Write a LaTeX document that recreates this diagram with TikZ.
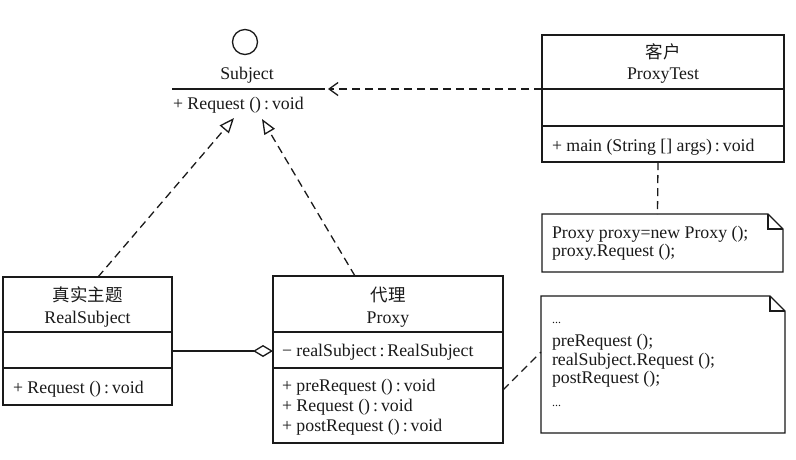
\documentclass[tikz,border=0pt]{standalone}
\usepackage{fontspec}
\setmainfont{Liberation Serif}
\newfontfamily\cjk{Noto Sans CJK SC}
\usetikzlibrary{arrows.meta,calc}
\definecolor{ink}{HTML}{1A1A1A}
\begin{document}
\begin{tikzpicture}[x=1pt,y=-1pt,
  every node/.style={inner sep=0pt, outer sep=0pt},
  classbox/.style={draw=ink, line width=1.3pt, anchor=north west},
  notebox/.style={anchor=north west},
  txt/.style={font=\fontsize{17.8}{19}\selectfont, anchor=base west, text=ink},
  ctxt/.style={font=\fontsize{17.8}{19}\selectfont, anchor=base, text=ink},
  cjktxt/.style={font=\cjk\fontsize{17.5}{19}\selectfont, text=ink},
  rule/.style={draw=ink, line width=1.3pt},
  dashline/.style={draw=ink, line width=1.3pt, dash pattern=on 8pt off 5pt},
  realize/.style={dashline, -{Triangle[open,length=15,width=12,line width=1.3pt]}},
  depend/.style={dashline, -{Straight Barb[length=9,width=13,line width=1.3pt]}},
  aggregate/.style={rule, -{Diamond[open,length=20,width=12,line width=1.3pt]}},
]
\useasboundingbox[fill=white] (0,0) rectangle (796,459);

% ---------- interface Subject (lollipop form) ----------
\node[circle, draw=ink, line width=1.3pt, minimum size=25] (subjIcon) at (245,42) {};
\node[ctxt] (subjName) at (247,79) {Subject};
\coordinate (subjL) at (172,89);
\coordinate (subjR) at (325,89);
\draw[rule] (subjL) -- (subjR);
\node[txt] (subjOp) at (173,109) {+ Request ()\,:\,void};
\coordinate (tipL) at (234,118);
\coordinate (tipR) at (262,119);

% ---------- class ProxyTest ----------
\node[classbox, minimum width=242, minimum height=127] (pt) at (542,35) {};
\draw[rule] ($(pt.north west)+(0,54)$) -- ($(pt.north east)+(0,54)$);
\draw[rule] ($(pt.north west)+(0,91)$) -- ($(pt.north east)+(0,91)$);
\node[cjktxt] (ptZh) at (663,52) {客户};
\node[ctxt] (ptName) at (663,79) {ProxyTest};
\node[txt] (ptOp) at (552,151) {+ main (String [] args)\,:\,void};

% ---------- class RealSubject ----------
\node[classbox, minimum width=169, minimum height=128] (rs) at (3,277) {};
\draw[rule] ($(rs.north west)+(0,55)$) -- ($(rs.north east)+(0,55)$);
\draw[rule] ($(rs.north west)+(0,91)$) -- ($(rs.north east)+(0,91)$);
\node[cjktxt] (rsZh) at (87.5,295) {真实主题};
\node[ctxt] (rsName) at (87.5,323) {RealSubject};
\node[txt] (rsOp) at (13,393) {+ Request ()\,:\,void};

% ---------- class Proxy ----------
\node[classbox, minimum width=230, minimum height=167] (px) at (273,276) {};
\draw[rule] ($(px.north west)+(0,56)$) -- ($(px.north east)+(0,56)$);
\draw[rule] ($(px.north west)+(0,92)$) -- ($(px.north east)+(0,92)$);
\node[cjktxt] (pxZh) at (388,295) {代理};
\node[ctxt] (pxName) at (388,323) {Proxy};
\node[txt] (pxAttr) at (282,356) {− realSubject\,:\,RealSubject};
\node[txt] (pxOpA) at (282,391) {+ preRequest ()\,:\,void};
\node[txt] (pxOpB) at (282,411) {+ Request ()\,:\,void};
\node[txt] (pxOpC) at (282,431) {+ postRequest ()\,:\,void};

% ---------- note for ProxyTest.main ----------
\node[notebox, minimum width=241, minimum height=58] (n1) at (542,214) {};
\draw[rule] (n1.north west) -- ($(n1.north east)+(-15,0)$) -- ($(n1.north east)+(0,15)$)
  -- (n1.south east) -- (n1.south west) -- cycle;
\draw[rule] ($(n1.north east)+(-15,0)$) -- ($(n1.north east)+(-15,15)$) -- ($(n1.north east)+(0,15)$);
\node[txt] (n1a) at (552,238) {Proxy proxy=new Proxy ();};
\node[txt] (n1b) at (552,256) {proxy.Request ();};

% ---------- note for Proxy.Request ----------
\node[notebox, minimum width=244, minimum height=137] (n2) at (541,296) {};
\draw[rule] (n2.north west) -- ($(n2.north east)+(-15,0)$) -- ($(n2.north east)+(0,15)$)
  -- (n2.south east) -- (n2.south west) -- cycle;
\draw[rule] ($(n2.north east)+(-15,0)$) -- ($(n2.north east)+(-15,15)$) -- ($(n2.north east)+(0,15)$);
\node[txt, font=\fontsize{12}{14}\selectfont] (n2a) at (552,323) {...};
\node[txt] (n2b) at (552,346) {preRequest ();};
\node[txt] (n2c) at (552,365) {realSubject.Request ();};
\node[txt] (n2d) at (552,383) {postRequest ();};
\node[txt, font=\fontsize{12}{14}\selectfont] (n2e) at (552,406) {...};

% ---------- relationships ----------
\draw[depend] (pt.west |- subjR) -- ($(subjR)+(3,0)$);
\draw[realize] ($(rs.north west)+(95,0)$) -- (tipL);
\draw[realize] ($(px.north west)+(82,0)$) -- (tipR);
\draw[aggregate] (rs.east |- 0,351) -- (px.west |- 0,351);
\draw[dashline] ($(pt.south)+(-5,0)$) -- ($(n1.north)+(-5,0)$);
\draw[dashline] (px.east |- 0,390) -- (n2.west |- 0,352);
\end{tikzpicture}
\end{document}
